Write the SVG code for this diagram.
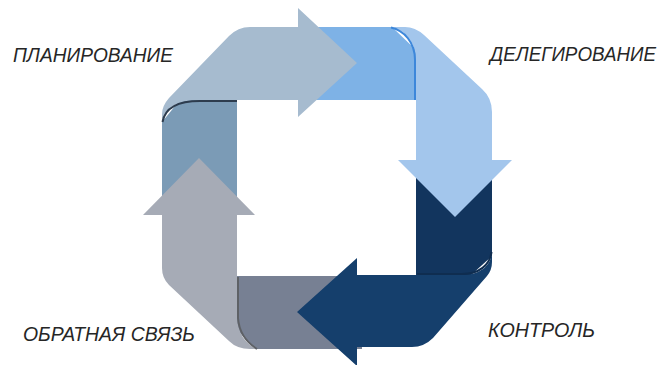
<svg xmlns="http://www.w3.org/2000/svg" width="669" height="365" viewBox="0 0 669 365">
<style>
.lbl{font-family:"Liberation Sans",Arial,sans-serif;font-style:italic;font-size:19.5px;fill:#262626}
.edge{fill:none;stroke-width:2}
</style>
<rect width="669" height="365" fill="#ffffff"/>
<g id="connectors">
<!-- folded undersides (tails) of the arrows -->
<polygon points="162,122 180,100 237,100 237,215 162,215" fill="#7B9BB6"/>
<polygon points="300,27 392,27 416,50 416,100 300,100" fill="#7EB2E6"/>
<polygon points="416,150 492,150 492,256 470,276 416,276" fill="#12355E"/>
<polygon points="237,276 362,276 362,349 256,349 237,330" fill="#778093"/>
</g>
<g id="node-planirovanie">
<path d="M162,121 C165,107 178,100 200,100 L298,100 L298,117 L357,63 L298,8 L298,27 L250,27 Q238,27 229,36 L169,98 Q162,106 162,114 Z" fill="#A6BBCF"/>
<path class="edge" d="M162.5,122 C165,107.5 178,101 200,101 L237,101" stroke="#2D3C4E"/>
<text class="lbl" x="13" y="62" textLength="160" lengthAdjust="spacingAndGlyphs">ПЛАНИРОВАНИЕ</text>
</g>
<g id="node-delegirovanie">
<path d="M392,27 L405,27 Q415,27 424,35 L482,89 Q492,98 492,112 L492,160 L512,160 L455,217 L398,160 L416,160 L416,60 C416,42 405,30 392,27 Z" fill="#A3C6EC"/>
<path class="edge" d="M391,27.5 C404,30.5 415,42 415,60 L415,100" stroke="#3D87DA"/>
<text class="lbl" x="490" y="61" font-size="18" textLength="166" lengthAdjust="spacingAndGlyphs">ДЕЛЕГИРОВАНИЕ</text>
</g>
<g id="node-kontrol">
<path d="M416,275 L462,275 C480,275 491,266 492,252 L492,262 Q492,270 487,276 L433,338 Q424,347 412,347 L357,347 L357,366 L297,312 L357,258 L357,275 Z" fill="#153F6C"/>
<path class="edge" d="M417,274 L462,274 C479,274 490,265 491.5,252" stroke="#0F2D50" stroke-width="1.5"/>
<text class="lbl" x="488" y="337" textLength="107" lengthAdjust="spacingAndGlyphs">КОНТРОЛЬ</text>
</g>
<g id="node-obratnaya-svyaz">
<path d="M237,276 L237,215 L255,215 L199,158 L143,215 L162,215 L162,268 Q162,278 169,285 L229,341 Q237,349 250,349 L256,349 C245,343 238,333 237,318 Z" fill="#A6ABB6"/>
<path class="edge" d="M238,277 L238,318 C239,332 246,342 257,349" stroke="#5E6166"/>
<text class="lbl" x="23" y="341" textLength="172" lengthAdjust="spacingAndGlyphs">ОБРАТНАЯ СВЯЗЬ</text>
</g>
</svg>
